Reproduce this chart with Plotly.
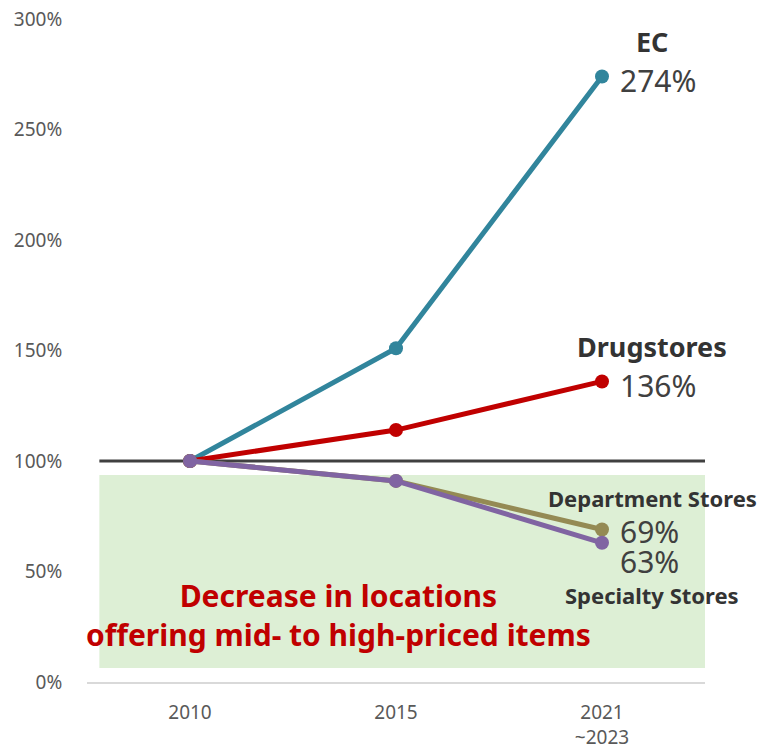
import plotly.graph_objects as go

# Index of store locations relative to 2010 (=100%)
periods = ["2010", "2015", "2021<br>~2023"]
ec = [100, 151, 274]
drugstores = [100, 114, 136]
department_stores = [100, 91, 69]
specialty_stores = [100, 91, 63]

y_ticks = [0, 50, 100, 150, 200, 250, 300]
y_tick_text = [f"{v}%" for v in y_ticks]

FONT = "Noto Sans"
series = [
    ("EC", ec, "#31859C"),
    ("Drugstores", drugstores, "#C00000"),
    ("Department Stores", department_stores, "#948A54"),
    ("Specialty Stores", specialty_stores, "#8064A2"),
]

fig = go.Figure()
for name, vals, color in series:
    fig.add_trace(go.Scatter(
        x=periods, y=vals, name=name, mode="lines+markers",
        line=dict(color=color, width=5),
        marker=dict(color=color, size=14),
        showlegend=False, cliponaxis=False,
    ))

# shaded zone below the 100% baseline
fig.add_shape(type="rect", xref="x", yref="y", x0=-0.44, x1=2.5, y0=6.3, y1=93.7,
              fillcolor="#DDEFD5", line=dict(width=0), layer="below")
# 100% reference line
fig.add_shape(type="line", xref="x", yref="y", x0=-0.44, x1=2.5, y0=100, y1=100,
              line=dict(color="#404040", width=3), layer="below")

label_x = 2
def name_label(text, y, yshift, size):
    fig.add_annotation(x=label_x, y=y, text=f"<b>{text}</b>", showarrow=False,
                       xshift=50, yshift=yshift, xanchor="center", yanchor="middle",
                       font=dict(family=FONT, size=size, color="#333333"))

def value_label(v, yshift):
    fig.add_annotation(x=label_x, y=v, text=f"{v}%", showarrow=False,
                       xshift=16, yshift=yshift, xanchor="left", yanchor="middle",
                       font=dict(family=FONT, size=30, color="#404040"))

name_label("EC", ec[-1], 35, 27)
value_label(ec[-1], -4)
name_label("Drugstores", drugstores[-1], 35, 27)
value_label(drugstores[-1], -4)
name_label("Department Stores", department_stores[-1], 32, 22)
value_label(department_stores[-1], -2)
value_label(specialty_stores[-1], -19)
name_label("Specialty Stores", specialty_stores[-1], -52, 22)

fig.add_annotation(x=0.72, y=30.3, xref="x", yref="y",
                   text="<b>Decrease in locations<br>offering mid- to high-priced items</b>",
                   showarrow=False, align="center", xanchor="center", yanchor="middle",
                   font=dict(family=FONT, size=30, color="#C00000"))

fig.update_layout(
    width=760, height=750,
    margin=dict(l=87, r=55, t=19, b=68),
    plot_bgcolor="white", paper_bgcolor="white",
    font=dict(family=FONT, color="#595959", size=19),
    xaxis=dict(type="category", range=[-0.5, 2.5], showgrid=False, automargin=False,
               showline=True, linecolor="#D9D9D9", linewidth=2,
               ticks="outside", ticklen=12, tickcolor="rgba(0,0,0,0)",
               tickfont=dict(size=19, color="#595959")),
    yaxis=dict(range=[0, 300], tickvals=y_ticks, ticktext=y_tick_text, automargin=False,
               showgrid=False, zeroline=False, showline=False,
               ticks="outside", ticklen=20, tickcolor="rgba(0,0,0,0)",
               tickfont=dict(size=19, color="#595959")),
)

fig.write_html("out.html")
